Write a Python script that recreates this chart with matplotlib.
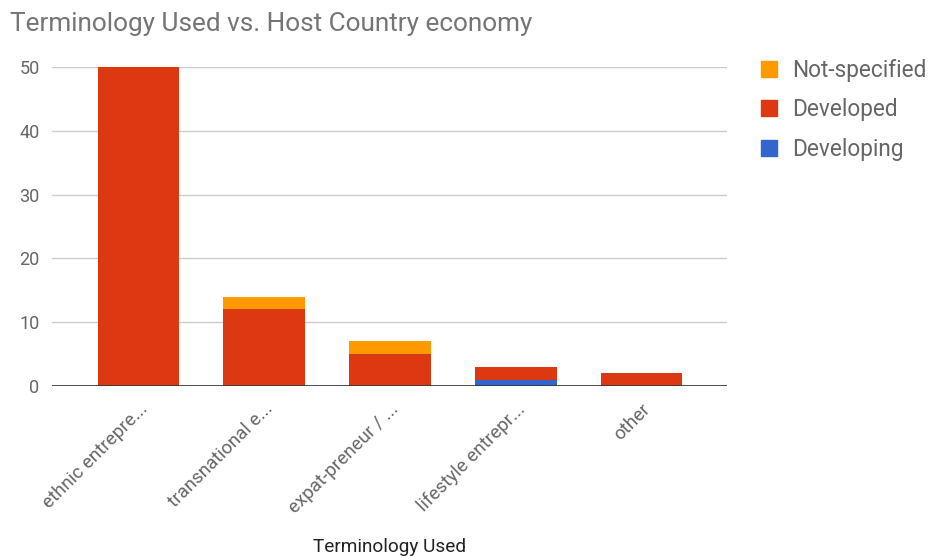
import numpy as np
import matplotlib.pyplot as plt
from matplotlib.patches import Patch

plt.rcParams['font.family'] = ['Roboto', 'DejaVu Sans']

# Terminology counts split by host country economy
terms = ['ethnic entrepre...', 'transnational e...', 'expat-preneur / ...',
         'lifestyle entrepr...', 'other']
developing = [0, 0, 0, 1, 0]
developed = [50, 12, 5, 2, 2]
not_specified = [0, 2, 2, 0, 0]

c_developing = '#3366CC'
c_developed = '#DC3912'
c_not_spec = '#FF9900'

fig = plt.figure(figsize=(9.29, 5.57), dpi=100)
ax = fig.add_axes([0.056, 0.307, 0.727, 0.573])

x = np.arange(len(terms))
w = 0.65
dev = np.array(developing)
dvd = np.array(developed)
ns = np.array(not_specified)
ax.bar(x, dev, w, color=c_developing, zorder=3)
ax.bar(x, dvd, w, bottom=dev, color=c_developed, zorder=3)
ax.bar(x, ns, w, bottom=dev + dvd, color=c_not_spec, zorder=3)

ax.set_xlim(-0.687, 4.683)
ax.set_ylim(0, 50)
ax.set_yticks([0, 10, 20, 30, 40, 50])
ax.grid(axis='y', color='#cccccc', linewidth=1, zorder=0)
ax.axhline(0, color='#333333', linewidth=1.2, zorder=4)
for s in ax.spines.values():
    s.set_visible(False)
ax.tick_params(length=0, labelsize=13, colors='#666666', pad=9)
ax.tick_params(axis='x', labelsize=13.5, pad=10)

ax.set_xticks(x)
ax.set_xticklabels(terms, rotation=45, ha='right', va='top',
                   rotation_mode='anchor')

ax.set_xlabel('Terminology Used', fontsize=13.7, color='#222222')
ax.xaxis.set_label_coords(0.5, -0.505)
ax.xaxis.label.set_va('center')

fig.text(0.011, 0.957, 'Terminology Used vs. Host Country economy',
         fontsize=18.8, color='#757575', va='center', ha='left')

handles = [Patch(color=c_not_spec, label='Not-specified'),
           Patch(color=c_developed, label='Developed'),
           Patch(color=c_developing, label='Developing')]
fig.legend(handles=handles, loc='upper left', bbox_to_anchor=(0.819, 0.894),
           frameon=False, fontsize=16.3, labelcolor='#666666',
           handlelength=0.7, handleheight=0.7, handletextpad=0.7,
           labelspacing=0.72, borderaxespad=0, borderpad=0)

fig.savefig('out.png', dpi=100)
